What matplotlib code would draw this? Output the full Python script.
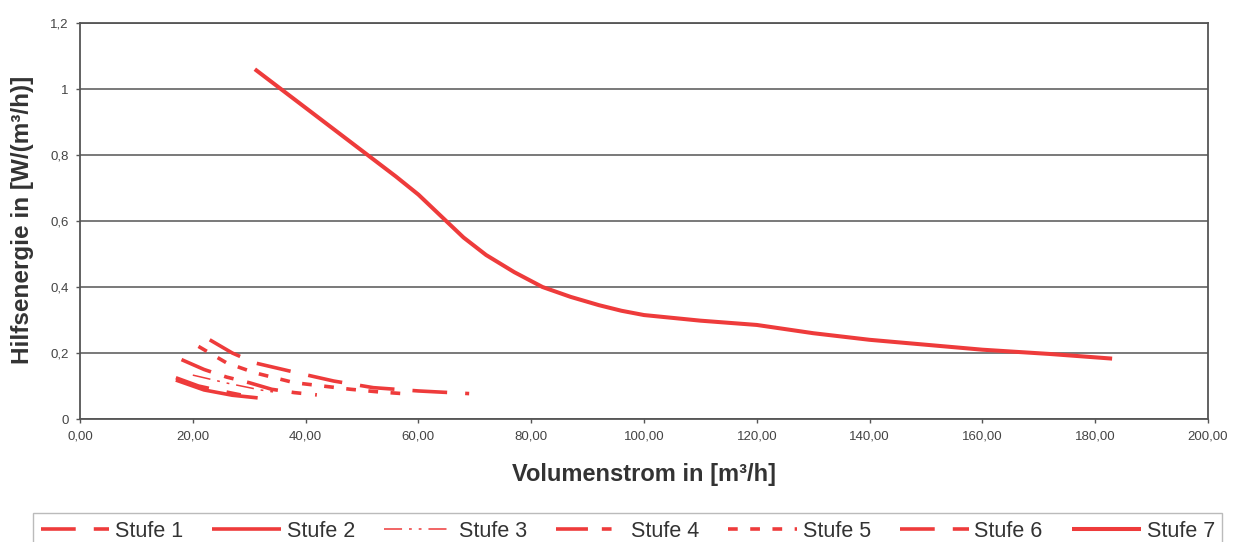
import matplotlib
matplotlib.use("Agg")
import matplotlib.pyplot as plt

plt.rcParams['font.family'] = ['Liberation Sans', 'DejaVu Sans']
plt.rcParams['lines.scale_dashes'] = False

# data
x1 = [17, 21, 25, 28.5]
y1 = [0.125, 0.100, 0.085, 0.073]
x2 = [17, 22, 27, 31.5]
y2 = [0.118, 0.088, 0.072, 0.064]
x3 = [20, 26, 32, 35]
y3 = [0.133, 0.109, 0.088, 0.080]
x4 = [18, 22, 26, 30, 34, 38, 42]
y4 = [0.180, 0.150, 0.127, 0.110, 0.090, 0.080, 0.073]
x5 = [21, 26, 31, 38, 43, 48, 53, 58]
y5 = [0.220, 0.170, 0.140, 0.110, 0.100, 0.090, 0.082, 0.076]
x6 = [23, 27, 31, 38.5, 45, 52, 60, 69]
y6 = [0.240, 0.200, 0.170, 0.140, 0.115, 0.095, 0.085, 0.077]
x7 = [31, 36, 41, 46, 51, 56, 60, 64, 68, 72, 77, 82, 87, 92, 96, 100,
      110, 120, 130, 140, 150, 160, 172, 183]
y7 = [1.06, 0.995, 0.93, 0.865, 0.80, 0.735, 0.68, 0.615, 0.55, 0.497, 0.445, 0.40,
      0.37, 0.345, 0.328, 0.315, 0.298, 0.285, 0.26, 0.24, 0.225, 0.21, 0.197, 0.183]

labels = ['Stufe 1', 'Stufe 2', 'Stufe 3', 'Stufe 4', 'Stufe 5', 'Stufe 6', 'Stufe 7']
xticks = [0, 20, 40, 60, 80, 100, 120, 140, 160, 180, 200]
yticks = [0, 0.2, 0.4, 0.6, 0.8, 1.0, 1.2]
yticklabels = ['0', '0,2', '0,4', '0,6', '0,8', '1', '1,2']

red = '#ee3b3b'
grey = '#555555'
txt = '#333333'

fig = plt.figure(figsize=(12.33, 5.42), dpi=100)
ax = fig.add_axes([80/1233, 1-419/542, 1128/1233, 396/542])

series = [
    (x1, y1, dict(lw=2.6, dashes=(25, 13))),
    (x2, y2, dict(lw=2.6, ls='-')),
    (x3, y3, dict(lw=1.1, dashes=(13, 5, 2, 5, 2, 5))),
    (x4, y4, dict(lw=2.6, dashes=(23, 10, 7, 10))),
    (x5, y5, dict(lw=2.6, dashes=(7, 9))),
    (x6, y6, dict(lw=2.6, dashes=(25, 13))),
    (x7, y7, dict(lw=2.9, ls='-')),
]
for (xs, ys, style), lab in zip(series, labels):
    ax.plot(xs, ys, color=red, label=lab, solid_capstyle='butt',
            dash_capstyle='butt', solid_joinstyle='round', **style)

ax.set_xlim(0, 200)
ax.set_ylim(0, 1.2)
ax.set_xticks(xticks)
ax.set_xticklabels(['%d,00' % v for v in xticks])
ax.set_yticks(yticks)
ax.set_yticklabels(yticklabels)
ax.tick_params(direction='out', length=3, width=1, color=grey, labelsize=9.5,
               labelcolor='#444444', pad=5)
ax.grid(axis='y', color=grey, lw=1.1)
ax.set_axisbelow(True)
for s in ax.spines.values():
    s.set_color(grey)
    s.set_linewidth(1.3)

fig.text(644/1233, 1-474/542, 'Volumenstrom in [m³/h]', ha='center', va='center',
         fontsize=17, fontweight='bold', color=txt)
fig.text(23/1233, 1-220/542, 'Hilfsenergie in [W/(m³/h)]', ha='center', va='center',
         rotation=90, fontsize=17.5, fontweight='bold', color=txt)

leg = fig.legend(loc='upper left', bbox_to_anchor=(33/1233, 1-513/542), ncol=7,
                 fontsize=15.5, handlelength=3.2, handletextpad=0.25,
                 columnspacing=1.37, borderaxespad=0, borderpad=0.35,
                 fancybox=False, frameon=True)
leg.get_frame().set_edgecolor('#aaaaaa')
leg.get_frame().set_linewidth(1)
for t in leg.get_texts():
    t.set_color(txt)

fig.savefig('out.png', dpi=100)
